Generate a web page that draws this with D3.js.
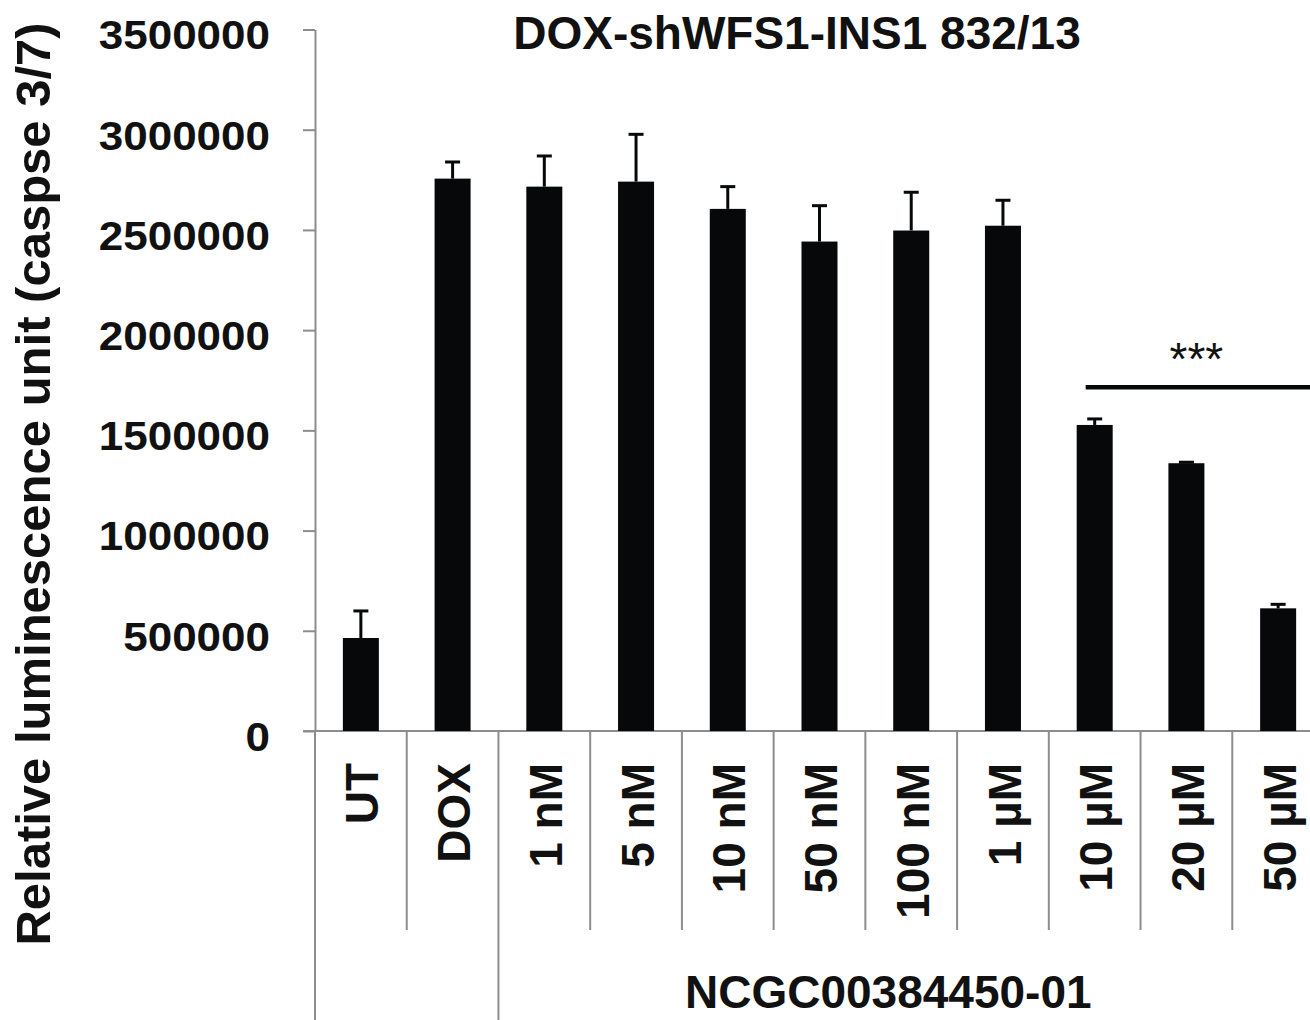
<!DOCTYPE html>
<html>
<head>
<meta charset="utf-8">
<script src="https://cdn.jsdelivr.net/npm/d3@7"></script>
<style>
  html, body { margin: 0; padding: 0; background: #fff; }
  svg { display: block; font-family: "Liberation Sans", Arial, sans-serif; }
</style>
</head>
<body>
<div id="chart"></div>
<script>
(function () {
  // data
  const categories = ['UT', 'DOX', '1 nM', '5 nM', '10 nM', '50 nM', '100 nM', '1 \u00b5M', '10 \u00b5M', '20 \u00b5M', '50 \u00b5M'];
  const means = [464000, 2756000, 2716000, 2741000, 2605000, 2442000, 2497000, 2521000, 1527000, 1336000, 612000];
  const errors = [135000, 83000, 153000, 236000, 111000, 179000, 191000, 127000, 30000, 5000, 20000];
  const yTicks = [0, 500000, 1000000, 1500000, 2000000, 2500000, 3000000, 3500000];
  const groups = [
    { label: '', first: 'UT', last: 'DOX' },
    { label: 'NCGC00384450-01', first: '1 nM', last: '50 \u00b5M' }
  ];
  const significance = { first: '10 \u00b5M', last: '50 \u00b5M', level: 1715000, label: '***' };

  const title = 'DOX-shWFS1-INS1 832/13';
  const yTitle = 'Relative luminescence unit (caspse 3/7)';

  const width = 1310;
  const height = 1020;
  const axisColor = '#8d8d8d';
  const barColor = '#070809';
  const barWidth = 36;

  const svg = d3.select('#chart')
    .append('svg')
    .attr('width', width)
    .attr('height', height);

  const y = d3.scaleLinear()
    .domain([0, 3500000])
    .range([731, 29.5]);

  const x = d3.scaleBand()
    .domain(categories)
    .range([315, 1324])
    .padding(0);

  const rows = categories.map(function (c, i) {
    return { name: c, value: means[i], err: errors[i] };
  });

  // y axis
  const yAxis = svg.append('g')
    .attr('transform', 'translate(315,0)')
    .call(d3.axisLeft(y).tickValues(yTicks).tickSize(12).tickSizeOuter(0).tickFormat(d3.format('d')));

  yAxis.select('.domain').attr('stroke', axisColor).attr('stroke-width', 2);
  yAxis.selectAll('.tick line').attr('stroke', axisColor).attr('stroke-width', 2);
  yAxis.selectAll('.tick text')
    .attr('fill', '#111')
    .attr('font-size', 40)
    .attr('font-weight', 'bold')
    .attr('x', -45 / 1.1)
    .attr('y', 5)
    .attr('dy', '0.36em')
    .attr('transform', 'scale(1.1,1)');

  // axis line continues down through the label area
  svg.append('line')
    .attr('x1', 315).attr('x2', 315)
    .attr('y1', y(0)).attr('y2', height)
    .attr('stroke', axisColor).attr('stroke-width', 2);

  // x baseline
  svg.append('line')
    .attr('x1', 303).attr('x2', x.range()[1])
    .attr('y1', y(0)).attr('y2', y(0))
    .attr('stroke', axisColor).attr('stroke-width', 2);

  // category separators (short) and group borders (long)
  const groupStarts = groups.map(function (g) { return g.first; });
  svg.selectAll('line.sep')
    .data(categories.slice(1).concat(['end']))
    .enter()
    .append('line')
    .attr('class', 'sep')
    .attr('x1', function (d) { return d === 'end' ? x.range()[1] : x(d); })
    .attr('x2', function (d) { return d === 'end' ? x.range()[1] : x(d); })
    .attr('y1', y(0))
    .attr('y2', function (d) { return (groupStarts.indexOf(d) >= 0 || d === 'end') ? height : 930; })
    .attr('stroke', axisColor)
    .attr('stroke-width', 2);

  // bars
  svg.selectAll('rect.bar')
    .data(rows)
    .enter()
    .append('rect')
    .attr('class', 'bar')
    .attr('x', function (d) { return x(d.name) + x.bandwidth() / 2 - barWidth / 2; })
    .attr('y', function (d) { return y(d.value); })
    .attr('width', barWidth)
    .attr('height', function (d) { return y(0) - y(d.value); })
    .attr('fill', barColor);

  // error bars (upper only)
  const errG = svg.append('g').attr('stroke', barColor).attr('stroke-width', 3);
  errG.selectAll('line.err')
    .data(rows)
    .enter()
    .append('line')
    .attr('class', 'err')
    .attr('x1', function (d) { return x(d.name) + x.bandwidth() / 2; })
    .attr('x2', function (d) { return x(d.name) + x.bandwidth() / 2; })
    .attr('y1', function (d) { return y(d.value); })
    .attr('y2', function (d) { return y(d.value + d.err); });

  errG.selectAll('line.cap')
    .data(rows)
    .enter()
    .append('line')
    .attr('class', 'cap')
    .attr('x1', function (d) { return x(d.name) + x.bandwidth() / 2 - 7.5; })
    .attr('x2', function (d) { return x(d.name) + x.bandwidth() / 2 + 7.5; })
    .attr('y1', function (d) { return y(d.value + d.err); })
    .attr('y2', function (d) { return y(d.value + d.err); });

  // category labels, rotated
  svg.selectAll('text.cat')
    .data(categories)
    .enter()
    .append('text')
    .attr('class', 'cat')
    .attr('transform', function (d) {
      return 'translate(' + (x(d) + x.bandwidth() / 2 + 1) + ',' + 763 + ') rotate(-90)';
    })
    .attr('dy', '0.36em')
    .attr('text-anchor', 'end')
    .attr('font-size', 46)
    .attr('font-weight', 'bold')
    .attr('fill', '#111')
    .text(function (d) { return d; });

  // group labels
  svg.selectAll('text.group')
    .data(groups.filter(function (g) { return g.label; }))
    .enter()
    .append('text')
    .attr('class', 'group')
    .attr('x', function (g) { return (x(g.first) + x(g.last) + x.bandwidth() / 2) / 2; })
    .attr('y', 1008)
    .attr('text-anchor', 'middle')
    .attr('font-size', 46)
    .attr('font-weight', 'bold')
    .attr('fill', '#111')
    .text(function (g) { return g.label; });

  // significance line
  const sigY = y(significance.level);
  svg.append('line')
    .attr('x1', x(significance.first) + x.bandwidth() / 2 - 9)
    .attr('x2', x(significance.last) + x.bandwidth())
    .attr('y1', sigY)
    .attr('y2', sigY)
    .attr('stroke', barColor)
    .attr('stroke-width', 4.5);

  svg.append('text')
    .attr('x', x(significance.first) + x.bandwidth() + x.bandwidth() / 2 + 10)
    .attr('y', sigY - 12)
    .attr('text-anchor', 'middle')
    .attr('font-size', 46)
    .attr('fill', '#111')
    .text(significance.label);

  // title
  svg.append('text')
    .attr('x', 797)
    .attr('y', 49)
    .attr('text-anchor', 'middle')
    .attr('font-size', 46)
    .attr('font-weight', 'bold')
    .attr('fill', '#111')
    .text(title);

  // y axis title
  svg.append('text')
    .attr('transform', 'translate(50,484) rotate(-90)')
    .attr('text-anchor', 'middle')
    .attr('font-size', 49)
    .attr('font-weight', 'bold')
    .attr('fill', '#111')
    .text(yTitle);
}());
</script>
</body>
</html>
